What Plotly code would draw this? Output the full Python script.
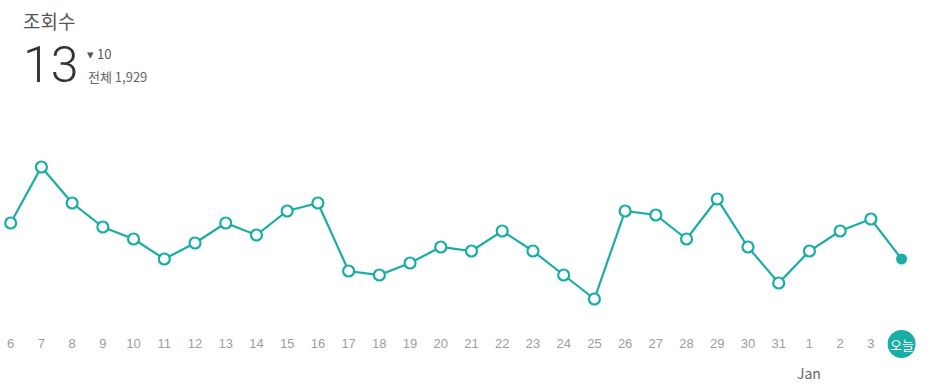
import plotly.graph_objects as go

# ---- data ----
day_labels = ["6", "7", "8", "9", "10", "11", "12", "13", "14", "15", "16", "17", "18",
              "19", "20", "21", "22", "23", "24", "25", "26", "27", "28", "29", "30", "31",
              "1", "2", "3", "오늘"]
views = [22, 36, 27, 21, 18, 13, 17, 22, 19, 25, 27, 10, 9, 12, 16, 15, 20, 15, 9, 3,
         25, 24, 18, 28, 16, 7, 15, 20, 23, 13]
title_text = "조회수"
today_value = "13"
delta_text = "▾ 10"
total_text = "전체 1,929"
month_label = "Jan"
month_index = 26

TEAL = "#19ADA6"
KR = "Noto Sans CJK KR"
n = len(views)
idx = list(range(n))

fig = go.Figure()
fig.add_trace(go.Scatter(
    x=idx, y=views, mode="lines",
    line=dict(color=TEAL, width=2.2), hoverinfo="skip", showlegend=False))
fig.add_trace(go.Scatter(
    x=idx[:-1], y=views[:-1], mode="markers",
    marker=dict(size=11, color="white", line=dict(color=TEAL, width=2.2)),
    showlegend=False))
fig.add_trace(go.Scatter(
    x=[idx[-1]], y=[views[-1]], mode="markers",
    marker=dict(size=11, color=TEAL, line=dict(color=TEAL, width=0)),
    showlegend=False))

H, T, B = 391, 151, 60
ph = H - T - B

# today badge circle (centered 13px below plot bottom)
fig.add_shape(type="circle", xref="x", yref="paper", xsizemode="pixel", ysizemode="pixel",
              xanchor=idx[-1], yanchor=0, x0=-14, x1=14, y0=1, y1=-27,
              fillcolor=TEAL, line=dict(width=0), layer="above")

ticktext = day_labels[:-1] + [""]
fig.update_xaxes(range=[-0.348, 30.12], tickvals=idx, ticktext=ticktext,
                 showgrid=False, zeroline=False, showline=False, ticks="",
                 tickfont=dict(family="Liberation Sans, Arial", size=13, color="#9d9d9d"),
                 ticklabelstandoff=3, fixedrange=True)
fig.update_yaxes(range=[-5, 40], visible=False, showgrid=False, zeroline=False, fixedrange=True)

annotations = [
    dict(text=day_labels[-1], x=idx[-1], y=344, xref="x", yref="paper", showarrow=False,
         font=dict(family=KR, size=13, color="white"), xanchor="center", yanchor="middle"),
    dict(text=month_label, x=month_index, y=373, xref="x", yref="paper", showarrow=False,
         font=dict(family=KR, size=14, color="#666666"), xanchor="center", yanchor="middle"),
    dict(text=title_text, x=21, y=20, showarrow=False,
         font=dict(family=KR, size=19, color="#555555"), xanchor="left", yanchor="middle"),
    dict(text=today_value, x=21, y=65, showarrow=False,
         font=dict(family="Roboto", size=50, color="#333333", weight=300), xanchor="left", yanchor="middle"),
    dict(text=delta_text, x=85, y=54, showarrow=False,
         font=dict(family=KR, size=13, color="#555555"), xanchor="left", yanchor="middle"),
    dict(text=total_text, x=86, y=77, showarrow=False,
         font=dict(family=KR, size=13, color="#666666"), xanchor="left", yanchor="middle"),
]
fixed = []
for a in annotations:
    if a.get("xref") != "x":
        a["xref"] = "paper"; a["yref"] = "paper"
        a["x"] = a["x"] / 936
    a["y"] = (H - B - a["y"]) / ph
    fixed.append(a)

fig.update_layout(
    width=936, height=H, margin=dict(l=0, r=0, t=T, b=B),
    paper_bgcolor="white", plot_bgcolor="white",
    annotations=fixed, hovermode=False,
)
fig.write_html("out.html", config={"displayModeBar": False})
